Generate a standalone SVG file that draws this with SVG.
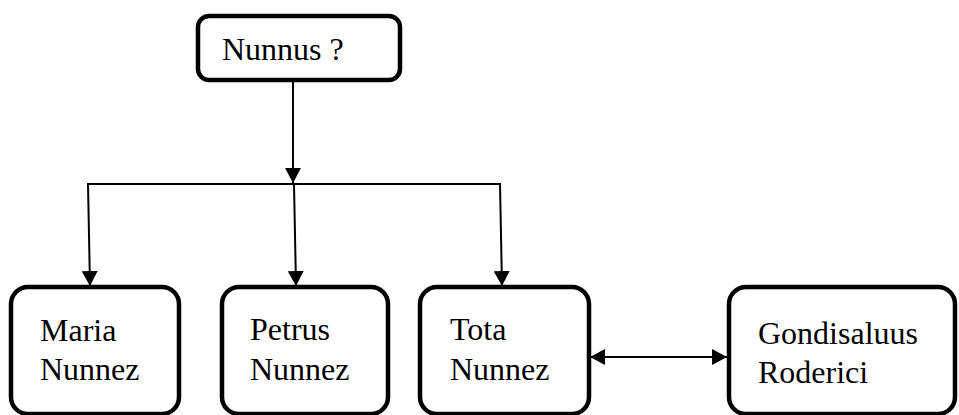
<svg xmlns="http://www.w3.org/2000/svg" width="959" height="415" viewBox="0 0 959 415">
<style>
.box{fill:#fff;stroke:#000;stroke-width:4.5}
text{font-family:'Liberation Serif','Times New Roman','DejaVu Serif',serif;font-size:32px;fill:#000}
.c{stroke:#000;stroke-width:2;fill:none}
</style>
<defs>
<marker id="ah" markerWidth="16" markerHeight="16" refX="15" refY="8" orient="auto" markerUnits="userSpaceOnUse">
<path d="M0,0 L15,8 L0,16 Z" fill="#000"/>
</marker>
<marker id="ahs" markerWidth="16" markerHeight="16" refX="1" refY="8" orient="auto" markerUnits="userSpaceOnUse">
<path d="M16,0 L1,8 L16,16 Z" fill="#000"/>
</marker>
</defs>
<rect width="959" height="415" fill="#fff"/>
<g id="connectors">
<line class="c" x1="293" y1="81" x2="293" y2="183" marker-end="url(#ah)"/>
<line class="c" x1="87" y1="184" x2="501" y2="184"/>
<line class="c" x1="88" y1="184" x2="90" y2="286" marker-end="url(#ah)"/>
<line class="c" x1="294" y1="184" x2="296" y2="286" marker-end="url(#ah)"/>
<line class="c" x1="500" y1="184" x2="502" y2="286" marker-end="url(#ah)"/>
<line class="c" x1="590" y1="357" x2="727" y2="357" marker-start="url(#ahs)" marker-end="url(#ah)"/>
</g>
<g id="nunnus">
<rect class="box" x="198" y="16" width="202" height="64" rx="11"/>
<text x="222" y="60" font-family="Liberation Serif, serif">Nunnus ?</text>
</g>
<g id="maria">
<rect class="box" x="11" y="287" width="168" height="127" rx="17"/>
<text x="40" y="341">Maria</text>
<text x="40" y="380">Nunnez</text>
</g>
<g id="petrus">
<rect class="box" x="222" y="287" width="166" height="127" rx="17"/>
<text x="250" y="340">Petrus</text>
<text x="250" y="380">Nunnez</text>
</g>
<g id="tota">
<rect class="box" x="420" y="287" width="169" height="127" rx="17"/>
<text x="450" y="340">Tota</text>
<text x="450" y="380">Nunnez</text>
</g>
<g id="gondisaluus">
<rect class="box" x="729" y="287" width="226" height="127" rx="17"/>
<text x="758" y="344">Gondisaluus</text>
<text x="758" y="383">Roderici</text>
</g>
</svg>
